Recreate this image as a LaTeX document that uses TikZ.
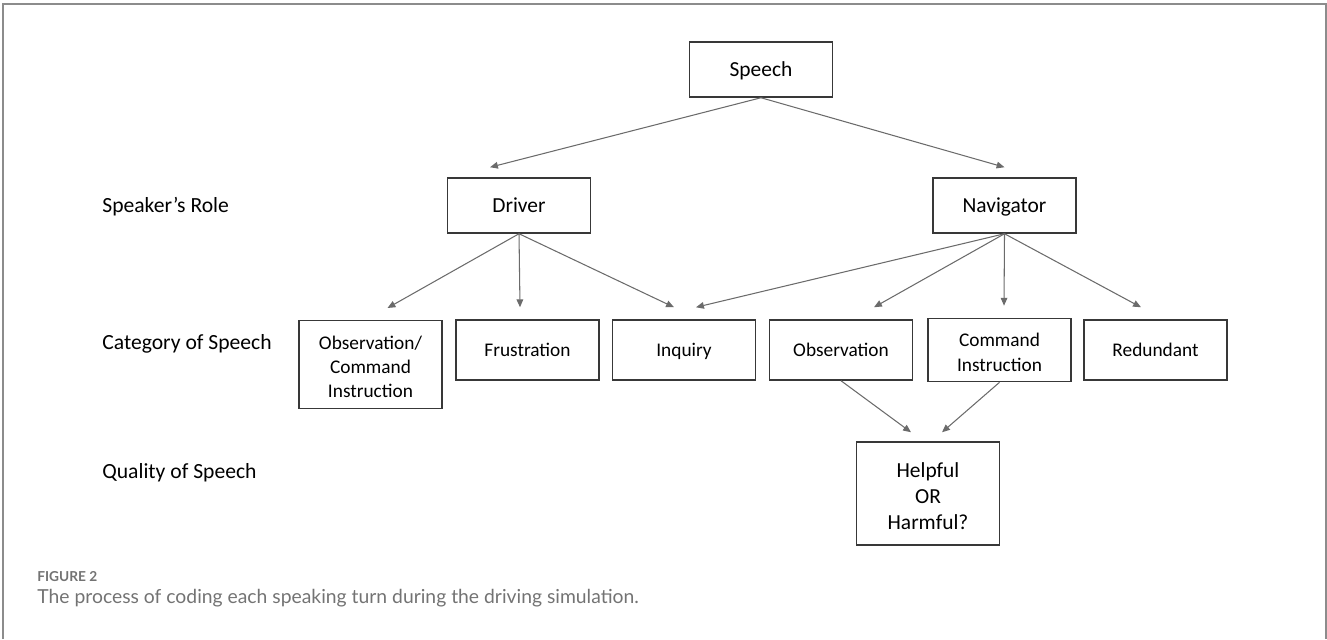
\documentclass[tikz,border=0pt]{standalone}
\usepackage{fontspec}
\setmainfont{Carlito}
\newfontfamily\capfont{Lato}
\usetikzlibrary{arrows.meta}
\definecolor{framegray}{gray}{0.55}
\definecolor{linegray}{gray}{0.42}
\definecolor{boxgray}{gray}{0.22}
\definecolor{capgray}{gray}{0.45}
\newcommand{\firstline}{\rule{0pt}{1.28em}}
\tikzset{
    box/.style={draw=boxgray,line width=0.85pt,align=center,inner sep=2pt,
        minimum width=2.86cm,font=\fontsize{12.2}{14.8}\selectfont,
        execute at begin node=\rule[-0.36em]{0pt}{1.36em}},
    catbox/.style={box,minimum height=1.2cm,font=\fontsize{11}{13.9}\selectfont},
    arr/.style={draw=linegray,line width=0.6pt,-{Triangle[length=4.5pt,width=3.8pt]}},
    rowlabel/.style={anchor=west,inner sep=0pt,font=\fontsize{12.3}{14.8}\selectfont}
}
\begin{document}
\begin{tikzpicture}[x=0.02cm,y=0.02cm]
        \useasboundingbox (0,0) rectangle (1327,-639);
        \draw [framegray,line width=1.2pt] (3,-639) -- (3,-4) -- (1326,-4) -- (1326,-639);
        \node [box,minimum height=1.1cm] (speech) at (761,-69.5) {Speech};
        \node [box,minimum height=1.1cm] (driver) at (519,-205.5) {Driver};
        \node [box,minimum height=1.1cm] (navigator) at (1004.5,-205.5) {Navigator};
        \node [catbox,minimum height=1.75cm,anchor=north] (obscmd) at (370.5,-320) {\firstline Observation/\\Command\\Instruction};
        \node [catbox] (frustration) at (527.5,-350) {Frustration};
        \node [catbox] (inquiry) at (684,-350) {Inquiry};
        \node [catbox] (observation) at (841,-350) {Observation};
        \node [catbox] (command) at (999.5,-350) {\firstline Command\\Instruction};
        \node [catbox] (redundant) at (1155.5,-350) {Redundant};
        \node [box,minimum height=2.06cm] (quality) at (928,-493.5) {\firstline Helpful\\OR\\Harmful?};
        \node [rowlabel] (rolelbl) at (102,-207) {Speaker’s Role};
        \node [rowlabel] (catlbl) at (102,-344) {Category of Speech};
        \node [rowlabel] (qualbl) at (102,-473) {Quality of Speech};
        \draw [arr] (speech.south) -- ([shift={(-29,10)}]driver.north);
        \draw [arr] (speech.south) -- ([shift={(0,10)}]navigator.north);
        \draw [arr] (driver.south) -- ([shift={(17,12)}]obscmd.north);
        \draw [arr] (driver.south) -- ([shift={(-7.5,12)}]frustration.north);
        \draw [arr] (driver.south) -- ([shift={(-10,12)}]inquiry.north);
        \draw [arr] (navigator.south) -- ([shift={(12,12)}]inquiry.north);
        \draw [arr] (navigator.south) -- ([shift={(33,12)}]observation.north);
        \draw [arr] (navigator.south) -- ([shift={(4.5,12)}]command.north);
        \draw [arr] (navigator.south) -- ([shift={(-14.5,12)}]redundant.north);
        \draw [arr] (observation.south) -- ([shift={(-17,9)}]quality.north);
        \draw [arr] (command.south) -- ([shift={(14,9)}]quality.north);
        \node [anchor=base west,inner sep=0pt,text=capgray,font=\capfont\bfseries\fontsize{7.8}{9}\selectfont] (fignum) at (37,-581) {FIGURE 2};
        \node [anchor=base west,inner sep=0pt,text=capgray,font=\capfont\fontsize{11}{13}\selectfont] (figcap) at (37,-603) {The process of coding each speaking turn during the driving simulation.};
    \end{tikzpicture}
\end{document}
